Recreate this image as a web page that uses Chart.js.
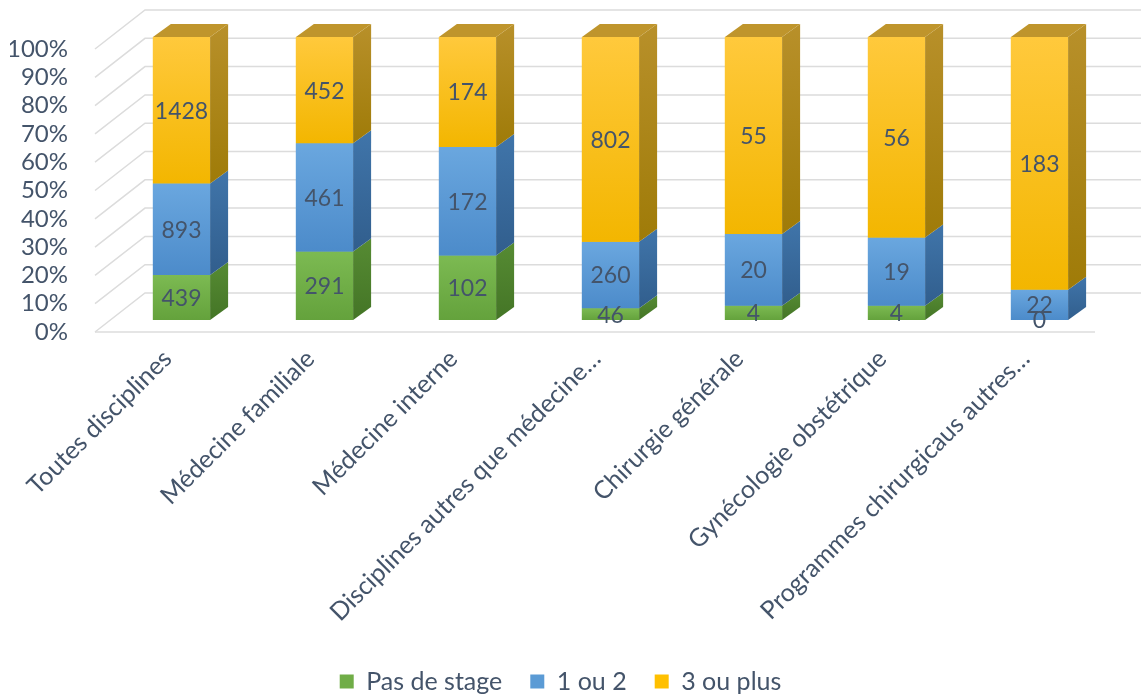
<!DOCTYPE html>
<html>
<head>
<meta charset="utf-8">
<script src="https://cdn.jsdelivr.net/npm/chart.js@4"></script>
<style>
    body { margin: 0; background: #fff; }
    #wrap { width: 1141px; height: 698px; position: relative; }
</style>
</head>
<body>
<div id="wrap"><canvas id="stageChart"></canvas></div>
<script>
// Data
const categories = [
    'Toutes disciplines',
    'Médecine familiale',
    'Médecine interne',
    'Disciplines autres que médecine…',
    'Chirurgie générale',
    'Gynécologie obstétrique',
    'Programmes chirurgicaus autres…'
];
const pasDeStage = [439, 291, 102, 46, 4, 4, 0];
const unOuDeux = [893, 461, 172, 260, 20, 19, 22];
const troisOuPlus = [1428, 452, 174, 802, 55, 56, 183];
const yTicks = [0, 10, 20, 30, 40, 50, 60, 70, 80, 90, 100];

const totals = categories.map((c, i) => pasDeStage[i] + unOuDeux[i] + troisOuPlus[i]);
const toPct = (arr) => arr.map((v, i) => v / totals[i] * 100);

const textColor = '#44546A';
const DX = 18, DY = 13;          // bar depth
const frontShade = [['#7CBA52', '#64A23C'], ['#6AA7DF', '#4C8BCA'], ['#FFC93C', '#F3B600']];
const sideShade = [['#568B33', '#447526'], ['#4075AA', '#315E8D'], ['#B8902A', '#9F7B08']];
const topShade = '#BF952C';

Chart.defaults.font.family = 'Lato, "Open Sans", sans-serif';
Chart.defaults.color = textColor;

// back wall, side wall and floor lines
const wallPlugin = {
    id: 'wall',
    beforeDatasetsDraw(chart) {
        const ctx = chart.ctx;
        const y = chart.scales.y;
        const area = chart.chartArea;
        const fx = area.left - 15, bx = area.left + 35;
        ctx.save();
        ctx.strokeStyle = '#DCDCDC';
        ctx.lineWidth = 1.5;
        yTicks.forEach(v => {
            const py = y.getPixelForValue(v);
            ctx.beginPath();
            ctx.moveTo(fx, py + 12);
            ctx.lineTo(bx, py - 27);
            ctx.lineTo(chart.width, py - 27);
            ctx.stroke();
        });
        const p0 = y.getPixelForValue(0);
        ctx.beginPath();
        ctx.moveTo(fx, p0 + 12);
        ctx.lineTo(area.right - 16, p0 + 12);
        ctx.stroke();
        ctx.restore();
    }
};

function vGrad(ctx, top, bottom, pair) {
    const g = ctx.createLinearGradient(0, top, 0, Math.max(bottom, top + 1));
    g.addColorStop(0, pair[0]);
    g.addColorStop(1, pair[1]);
    return g;
}

// shaded front, side faces, top face and value labels
const depthPlugin = {
    id: 'depth',
    afterDatasetsDraw(chart) {
        const ctx = chart.ctx;
        const counts = [pasDeStage, unOuDeux, troisOuPlus];
        ctx.save();
        chart.data.datasets.forEach((ds, d) => {
            const meta = chart.getDatasetMeta(d);
            meta.data.forEach((bar, i) => {
                const right = bar.x + bar.width / 2;
                const left = bar.x - bar.width / 2;
                const top = Math.min(bar.y, bar.base);
                const bottom = Math.max(bar.y, bar.base);
                if (bottom - top < 0.5) return;
                ctx.fillStyle = vGrad(ctx, top, bottom, frontShade[d]);
                ctx.fillRect(left, top, right - left, bottom - top);
                ctx.fillStyle = vGrad(ctx, top - DY, bottom, sideShade[d]);
                ctx.beginPath();
                ctx.moveTo(right, bottom);
                ctx.lineTo(right + DX, bottom - DY);
                ctx.lineTo(right + DX, top - DY);
                ctx.lineTo(right, top);
                ctx.closePath();
                ctx.fill();
                if (d === chart.data.datasets.length - 1) {
                    ctx.fillStyle = topShade;
                    ctx.beginPath();
                    ctx.moveTo(left, top);
                    ctx.lineTo(left + DX, top - DY);
                    ctx.lineTo(right + DX, top - DY);
                    ctx.lineTo(right, top);
                    ctx.closePath();
                    ctx.fill();
                }
            });
        });
        ctx.fillStyle = textColor;
        ctx.font = '23px Lato, "Open Sans", sans-serif';
        ctx.textAlign = 'center';
        ctx.textBaseline = 'middle';
        chart.data.datasets.forEach((ds, d) => {
            const meta = chart.getDatasetMeta(d);
            meta.data.forEach((bar, i) => {
                ctx.fillText(String(counts[d][i]), bar.x, (bar.y + bar.base) / 2 + 1);
            });
        });
        ctx.restore();
    }
};

const ctxBar = document.getElementById('stageChart').getContext('2d');
const stageChart = new Chart(ctxBar, {
    type: 'bar',
    data: {
        labels: categories,
        datasets: [
            { label: 'Pas de stage', data: toPct(pasDeStage), backgroundColor: '#70AD47' },
            { label: '1 ou 2', data: toPct(unOuDeux), backgroundColor: '#5B9BD5' },
            { label: '3 ou plus', data: toPct(troisOuPlus), backgroundColor: '#FFC000' }
        ]
    },
    options: {
        responsive: true,
        maintainAspectRatio: false,
        animation: false,
        layout: { padding: { left: 10, right: 30, top: 37, bottom: -6 } },
        datasets: { bar: { categoryPercentage: 1, barPercentage: 0.4, borderWidth: 0 } },
        plugins: {
            legend: {
                position: 'bottom',
                labels: {
                    boxWidth: 14,
                    boxHeight: 14,
                    padding: 28,
                    color: textColor,
                    font: { size: 25 }
                }
            },
            tooltip: { enabled: false }
        },
        scales: {
            x: {
                stacked: true,
                grid: { display: false, drawTicks: false },
                border: { display: false },
                ticks: {
                    minRotation: 45,
                    maxRotation: 45,
                    padding: 24,
                    labelOffset: -14,
                    autoSkip: false,
                    color: textColor,
                    font: { size: 25 }
                },
                afterFit(scale) { scale.height = 321; }
            },
            y: {
                stacked: true,
                min: 0,
                max: 100,
                grid: { display: false, drawTicks: false },
                border: { display: false },
                afterBuildTicks(scale) { scale.ticks = yTicks.map(v => ({ value: v })); },
                ticks: {
                    autoSkip: false,
                    padding: 42,
                    labelOffset: 12,
                    color: textColor,
                    font: { size: 24 },
                    callback: (v) => v + '%'
                },
                afterFit(scale) {
                    scale.width = 100;
                    scale.paddingTop = 12;
                    scale.paddingBottom = 12;
                }
            }
        }
    },
    plugins: [wallPlugin, depthPlugin]
});
</script>
</body>
</html>
